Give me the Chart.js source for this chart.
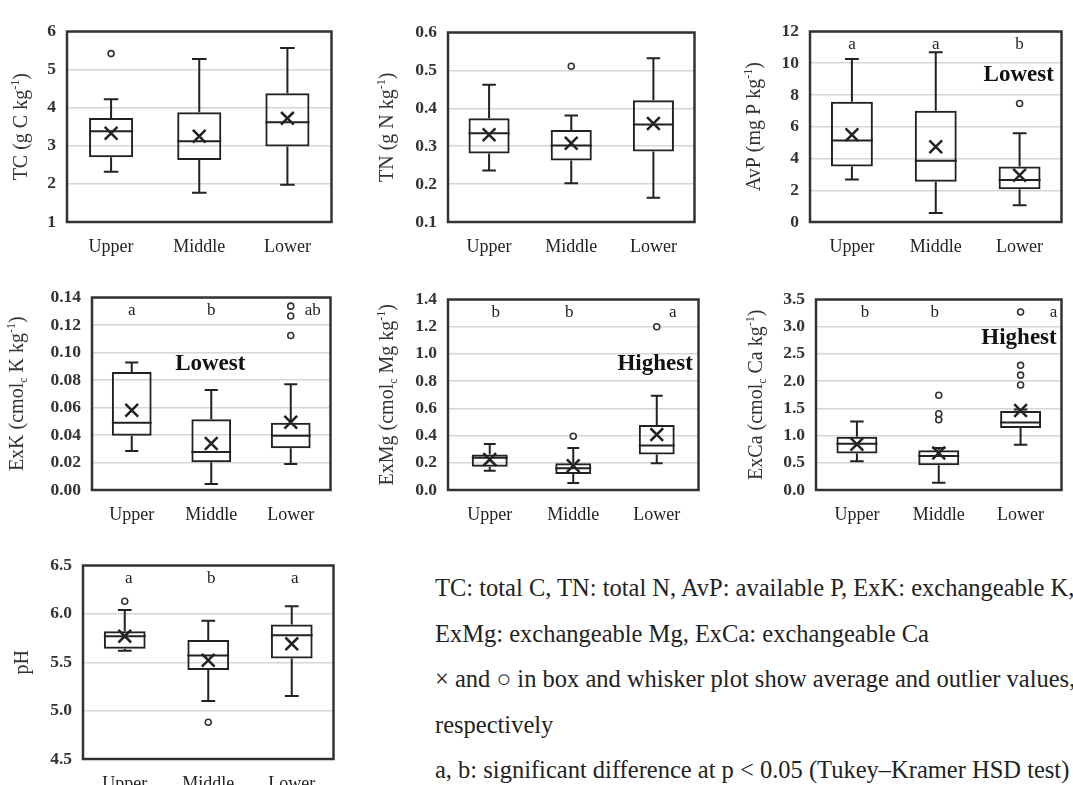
<!DOCTYPE html>
<html><head><meta charset="utf-8">
<script src="https://cdn.jsdelivr.net/npm/chart.js@4.4.1/dist/chart.umd.min.js"></script>
<style>
html,body{margin:0;padding:0;background:#fff;width:1073px;height:785px;overflow:hidden;position:relative;}
canvas{position:absolute;}
.note{position:absolute;left:435px;font-family:'Liberation Serif','Times New Roman',serif;font-size:24.5px;line-height:24px;color:#222;white-space:nowrap;}
</style></head><body>
<div class="note" style="top:576px">TC: total C, TN: total N, AvP: available P, ExK: exchangeable K,</div>
<div class="note" style="top:622px">ExMg: exchangeable Mg, ExCa: exchangeable Ca</div>
<div class="note" style="top:667px">× and ○ in box and whisker plot show average and outlier values,</div>
<div class="note" style="top:713px">respectively</div>
<div class="note" style="top:758px">a, b: significant difference at p &lt; 0.05 (Tukey–Kramer HSD test)</div>
<script>
const categories = ['Upper', 'Middle', 'Lower'];

// TC (g C kg-1)
const tcMin  = [2.32, 1.77, 1.98];
const tcQ1   = [2.70, 2.63, 2.98];
const tcMed  = [3.38, 3.12, 3.62];
const tcQ3   = [3.73, 3.88, 4.38];
const tcMax  = [4.22, 5.28, 5.57];
const tcMean = [3.33, 3.25, 3.72];
const tcOut  = [[5.42], [], []];

// TN (g N kg-1)
const tnMin  = [0.236, 0.202, 0.164];
const tnQ1   = [0.281, 0.262, 0.286];
const tnMed  = [0.334, 0.302, 0.357];
const tnQ3   = [0.374, 0.343, 0.421];
const tnMax  = [0.462, 0.381, 0.532];
const tnMean = [0.330, 0.308, 0.360];
const tnOut  = [[], [0.511], []];

// AvP (mg P kg-1)
const avpMin  = [2.68, 0.57, 1.06];
const avpQ1   = [3.50, 2.54, 2.07];
const avpMed  = [5.14, 3.86, 2.64];
const avpQ3   = [7.58, 7.01, 3.50];
const avpMax  = [10.26, 10.70, 5.59];
const avpMean = [5.49, 4.74, 2.95];
const avpOut  = [[], [], [7.46]];
const avpLetters = ['a', 'a', 'b'];

// ExK (cmolc K kg-1)
const exkMin  = [0.0284, 0.0043, 0.0189];
const exkQ1   = [0.0395, 0.0201, 0.0303];
const exkMed  = [0.0490, 0.0277, 0.0395];
const exkQ3   = [0.0859, 0.0514, 0.0490];
const exkMax  = [0.0928, 0.0727, 0.0769];
const exkMean = [0.0580, 0.0338, 0.0492];
const exkOut  = [[], [], [0.1337, 0.1266, 0.1124]];
const exkLetters = ['a', 'b', 'ab'];

// ExMg (cmolc Mg kg-1)
const exmgMin  = [0.142, 0.052, 0.196];
const exmgQ1   = [0.170, 0.118, 0.260];
const exmgMed  = [0.237, 0.159, 0.327];
const exmgQ3   = [0.260, 0.196, 0.478];
const exmgMax  = [0.338, 0.308, 0.693];
const exmgMean = [0.225, 0.178, 0.407];
const exmgOut  = [[], [0.395], [1.20]];
const exmgLetters = ['b', 'b', 'a'];

// ExCa (cmolc Ca kg-1)
const excaMin  = [0.526, 0.134, 0.83];
const excaQ1   = [0.67, 0.456, 1.14];
const excaMed  = [0.85, 0.626, 1.24];
const excaQ3   = [0.98, 0.73, 1.45];
const excaMax  = [1.257, 0.77, 1.48];
const excaMean = [0.84, 0.68, 1.46];
const excaOut  = [[], [1.74, 1.40, 1.29], [3.27, 2.29, 2.11, 1.93]];
const excaLetters = ['b', 'b', 'a'];

// pH
const phMin  = [5.62, 5.10, 5.15];
const phQ1   = [5.64, 5.42, 5.54];
const phMed  = [5.77, 5.57, 5.78];
const phQ3   = [5.82, 5.73, 5.89];
const phMax  = [6.04, 5.93, 6.08];
const phMean = [5.77, 5.52, 5.69];
const phOut  = [[6.13], [4.88], []];
const phLetters = ['a', 'b', 'a'];

const SERIF = "'Liberation Serif','Times New Roman',serif";
const INK = '#222';

const panels = [
  { frame:[67,22,341,222], titleX:22, title:[['TC (g C kg',''],['-1','sup'],[')','']],
    min:1, max:6, step:1, dec:0, s:{min:tcMin,q1:tcQ1,med:tcMed,q3:tcQ3,max:tcMax,mean:tcMean,out:tcOut}, boxFrac:0.5 },
  { frame:[448,23,704,222], titleX:388, title:[['TN (g N kg',''],['-1','sup'],[')','']],
    min:0.1, max:0.6, step:0.1, dec:1, s:{min:tnMin,q1:tnQ1,med:tnMed,q3:tnQ3,max:tnMax,mean:tnMean,out:tnOut}, boxFrac:0.5 },
  { frame:[810,22,1071,222], titleX:755, title:[['AvP (mg P kg',''],['-1','sup'],[')','']],
    min:0, max:12, step:2, dec:0, s:{min:avpMin,q1:avpQ1,med:avpMed,q3:avpQ3,max:avpMax,mean:avpMean,out:avpOut}, boxFrac:0.5,
    letters:avpLetters, letterDx:[0,0,0], note:{text:'Lowest', fx:0.83, fy:0.23} },
  { frame:[92,288,340,490], titleX:18, title:[['ExK (cmol',''],['c','sub'],[' K kg',''],['-1','sup'],[')','']],
    min:0, max:0.14, step:0.02, dec:2, s:{min:exkMin,q1:exkQ1,med:exkMed,q3:exkQ3,max:exkMax,mean:exkMean,out:exkOut}, boxFrac:0.5,
    letters:exkLetters, letterDx:[0,0,22], note:{text:'Lowest', fx:0.496, fy:0.347} },
  { frame:[448,290,708,490], titleX:388, title:[['ExMg (cmol',''],['c','sub'],[' Mg kg',''],['-1','sup'],[')','']],
    min:0, max:1.4, step:0.2, dec:1, s:{min:exmgMin,q1:exmgQ1,med:exmgMed,q3:exmgQ3,max:exmgMax,mean:exmgMean,out:exmgOut}, boxFrac:0.43,
    letters:exmgLetters, letterDx:[6,-4,16], note:{text:'Highest', fx:0.827, fy:0.34} },
  { frame:[816,290,1071,490], titleX:757, title:[['ExCa (cmol',''],['c','sub'],[' Ca kg',''],['-1','sup'],[')','']],
    min:0, max:3.5, step:0.5, dec:1, s:{min:excaMin,q1:excaQ1,med:excaMed,q3:excaQ3,max:excaMax,mean:excaMean,out:excaOut}, boxFrac:0.5,
    letters:excaLetters, letterDx:[8,-4,33], note:{text:'Highest', fx:0.827, fy:0.205} },
  { frame:[83,556,343,759], titleX:23, title:[['pH','']],
    min:4.5, max:6.5, step:0.5, dec:1, s:{min:phMin,q1:phQ1,med:phMed,q3:phQ3,max:phMax,mean:phMean,out:phOut}, boxFrac:0.5,
    letters:phLetters, letterDx:[4,3,3] }
];

const YW = 90, PADT = 12, XH = 45, PADR = 2;

panels.forEach(p => {
  const [L, T, R, B] = p.frame;
  const cv = document.createElement('canvas');
  const cl = L - YW, ct = T - PADT;
  cv.width = (R - L) + YW + PADR;
  cv.height = (B - T) + PADT + XH;
  cv.style.left = cl + 'px';
  cv.style.top = ct + 'px';
  document.body.appendChild(cv);

  const outPts = [];
  p.s.out.forEach((arr, i) => arr.forEach(v => outPts.push({ x: categories[i], y: v })));

  const boxPlugin = {
    id: 'boxExtras',
    afterDatasetDraw(chart, args) {
      if (args.meta.type !== 'bar') return;
      const xs = chart.scales.x, ys = chart.scales.y, ctx = chart.ctx;
      ctx.save();
      ctx.strokeStyle = INK; ctx.lineWidth = 2; ctx.lineCap = 'butt';
      args.meta.data.forEach((bar, i) => {
        const cx = xs.getPixelForValue(i);
        const half = bar.width / 2, cap = half * 0.33;
        const y0 = ys.getPixelForValue(p.s.min[i]);
        const y1 = ys.getPixelForValue(p.s.q1[i]);
        const ym = ys.getPixelForValue(p.s.med[i]);
        const y3 = ys.getPixelForValue(p.s.q3[i]);
        const y4 = ys.getPixelForValue(p.s.max[i]);
        ctx.beginPath();
        ctx.moveTo(cx, y1); ctx.lineTo(cx, y0);
        ctx.moveTo(cx - cap, y0); ctx.lineTo(cx + cap, y0);
        ctx.moveTo(cx, y3); ctx.lineTo(cx, y4);
        ctx.moveTo(cx - cap, y4); ctx.lineTo(cx + cap, y4);
        ctx.moveTo(cx - half, ym); ctx.lineTo(cx + half, ym);
        ctx.stroke();
      });
      ctx.restore();
    },
    afterDraw(chart) {
      const a = chart.chartArea, ctx = chart.ctx, xs = chart.scales.x;
      ctx.save();
      ctx.strokeStyle = '#333'; ctx.lineWidth = 2.5;
      ctx.strokeRect(a.left, a.top, a.right - a.left, a.bottom - a.top);
      if (p.letters) {
        ctx.fillStyle = INK; ctx.font = '17px ' + SERIF;
        ctx.textAlign = 'center'; ctx.textBaseline = 'middle';
        p.letters.forEach((t, i) => ctx.fillText(t, xs.getPixelForValue(i) + p.letterDx[i], a.top + 13));
      }
      if (p.note) {
        ctx.fillStyle = '#111'; ctx.font = 'bold 23px ' + SERIF;
        ctx.textAlign = 'center'; ctx.textBaseline = 'middle';
        ctx.fillText(p.note.text, a.left + p.note.fx * (a.right - a.left), a.top + p.note.fy * (a.bottom - a.top));
      }
      const fs = 20;
      const segs = p.title.map(([t, k]) => ({ t, k, f: (k ? Math.round(fs * 0.62) : fs) + 'px ' + SERIF }));
      let total = 0;
      segs.forEach(sg => { ctx.font = sg.f; sg.w = ctx.measureText(sg.t).width; total += sg.w; });
      ctx.translate(p.titleX - cl, (a.top + a.bottom) / 2);
      ctx.rotate(-Math.PI / 2);
      ctx.fillStyle = '#333'; ctx.textAlign = 'left'; ctx.textBaseline = 'middle';
      let x = -total / 2;
      segs.forEach(sg => {
        ctx.font = sg.f;
        const dy = sg.k === 'sup' ? -fs * 0.33 : sg.k === 'sub' ? fs * 0.28 : 0;
        ctx.fillText(sg.t, x, dy);
        x += sg.w;
      });
      ctx.restore();
    }
  };

  new Chart(cv, {
    type: 'bar',
    data: {
      labels: categories,
      datasets: [
        { type: 'bar', data: categories.map((c, i) => [p.s.q1[i], p.s.q3[i]]),
          backgroundColor: 'rgba(0,0,0,0)', borderColor: INK, borderWidth: 2, borderSkipped: false,
          barPercentage: p.boxFrac, categoryPercentage: 1, order: 2 },
        { type: 'line', data: p.s.mean, showLine: false, pointStyle: 'crossRot', pointRadius: 9,
          pointBorderWidth: 2.5, pointBorderColor: INK, pointBackgroundColor: INK, order: 1 },
        { type: 'line', data: outPts, showLine: false, pointStyle: 'circle', pointRadius: 3,
          pointBorderWidth: 1.6, pointBorderColor: '#333', pointBackgroundColor: '#fff', order: 0 }
      ]
    },
    options: {
      responsive: false, animation: false, devicePixelRatio: 1,
      layout: { padding: { left: 0, top: PADT, right: PADR, bottom: 0 } },
      plugins: { legend: { display: false }, tooltip: { enabled: false } },
      scales: {
        x: {
          grid: { display: false, drawTicks: false }, border: { display: false },
          ticks: { color: INK, padding: 14, font: { family: SERIF, size: 18 } },
          afterFit: s => { s.height = XH; }
        },
        y: {
          min: p.min, max: p.max,
          grid: { color: '#d6d6d6', lineWidth: 1.5, drawTicks: false }, border: { display: false },
          ticks: { stepSize: p.step, color: '#333', padding: 11, font: { family: SERIF, size: 17.5, weight: 'bold' },
                   callback: v => Number(v).toFixed(p.dec) },
          afterFit: s => { s.width = YW; }
        }
      }
    },
    plugins: [boxPlugin]
  });
});
</script>
</body></html>
